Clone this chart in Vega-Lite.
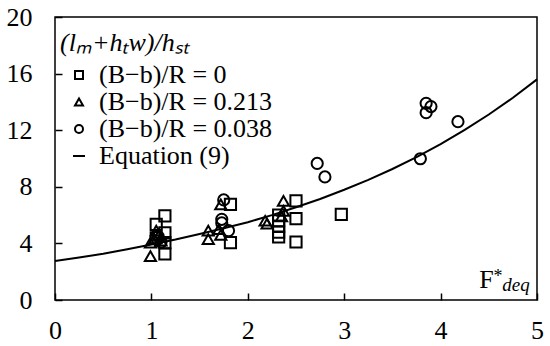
{
  "$schema": "https://vega.github.io/schema/vega-lite/v6.json",
  "width": 482,
  "height": 283,
  "autosize": {"type": "none"},
  "padding": {"left": 55, "top": 17, "right": 13, "bottom": 46},
  "background": "white",
  "config": {
    "view": {"stroke": "black", "strokeWidth": 1.5},
    "font": "Liberation Serif",
    "axis": {
      "domain": false,
      "grid": false,
      "ticks": true,
      "tickSize": -7,
      "tickColor": "black",
      "tickWidth": 1.5,
      "labelFont": "Liberation Serif",
      "labelFontSize": 26,
      "labelColor": "black",
      "labelFlush": false,
      "labelOverlap": false,
      "title": null
    },
    "legend": {
      "orient": "none",
      "legendX": 5,
      "legendY": 13,
      "padding": 0,
      "titleFont": "Liberation Serif",
      "titleFontSize": 26,
      "titleFontStyle": "italic",
      "titleFontWeight": "normal",
      "titleColor": "black",
      "titlePadding": 6,
      "titleLimit": 0,
      "labelFont": "Liberation Serif",
      "labelFontSize": 26,
      "labelColor": "black",
      "labelLimit": 0,
      "labelOffset": 7,
      "symbolSize": 64,
      "symbolStrokeWidth": 2,
      "symbolStrokeColor": "black",
      "symbolOffset": 6,
      "rowPadding": 1
    }
  },
  "datasets": {
    "points": [
      {"x": 1.14, "y": 5.95, "series": "(B−b)/R = 0"},
      {"x": 1.05, "y": 5.35, "series": "(B−b)/R = 0"},
      {"x": 1.14, "y": 4.75, "series": "(B−b)/R = 0"},
      {"x": 1.14, "y": 4.05, "series": "(B−b)/R = 0"},
      {"x": 1.14, "y": 3.25, "series": "(B−b)/R = 0"},
      {"x": 1.05, "y": 4.4, "series": "(B−b)/R = 0"},
      {"x": 1.82, "y": 6.76, "series": "(B−b)/R = 0"},
      {"x": 1.82, "y": 4.05, "series": "(B−b)/R = 0"},
      {"x": 2.32, "y": 6.0, "series": "(B−b)/R = 0"},
      {"x": 2.32, "y": 5.6, "series": "(B−b)/R = 0"},
      {"x": 2.32, "y": 5.2, "series": "(B−b)/R = 0"},
      {"x": 2.32, "y": 4.8, "series": "(B−b)/R = 0"},
      {"x": 2.32, "y": 4.45, "series": "(B−b)/R = 0"},
      {"x": 2.5, "y": 7.0, "series": "(B−b)/R = 0"},
      {"x": 2.5, "y": 5.75, "series": "(B−b)/R = 0"},
      {"x": 2.5, "y": 4.1, "series": "(B−b)/R = 0"},
      {"x": 2.97, "y": 6.05, "series": "(B−b)/R = 0"},
      {"x": 0.99, "y": 3.1, "series": "(B−b)/R = 0.213"},
      {"x": 0.99, "y": 4.05, "series": "(B−b)/R = 0.213"},
      {"x": 1.03, "y": 4.3, "series": "(B−b)/R = 0.213"},
      {"x": 1.05, "y": 4.9, "series": "(B−b)/R = 0.213"},
      {"x": 1.08, "y": 4.6, "series": "(B−b)/R = 0.213"},
      {"x": 1.1, "y": 4.2, "series": "(B−b)/R = 0.213"},
      {"x": 1.59, "y": 4.9, "series": "(B−b)/R = 0.213"},
      {"x": 1.59, "y": 4.3, "series": "(B−b)/R = 0.213"},
      {"x": 1.72, "y": 6.76, "series": "(B−b)/R = 0.213"},
      {"x": 1.7, "y": 5.0, "series": "(B−b)/R = 0.213"},
      {"x": 1.72, "y": 4.6, "series": "(B−b)/R = 0.213"},
      {"x": 2.18, "y": 5.6, "series": "(B−b)/R = 0.213"},
      {"x": 2.2, "y": 5.4, "series": "(B−b)/R = 0.213"},
      {"x": 2.37, "y": 7.0, "series": "(B−b)/R = 0.213"},
      {"x": 2.37, "y": 6.3, "series": "(B−b)/R = 0.213"},
      {"x": 2.35, "y": 5.9, "series": "(B−b)/R = 0.213"},
      {"x": 1.07, "y": 4.5, "series": "(B−b)/R = 0.038"},
      {"x": 1.1, "y": 4.1, "series": "(B−b)/R = 0.038"},
      {"x": 1.75, "y": 7.07, "series": "(B−b)/R = 0.038"},
      {"x": 1.73, "y": 5.7, "series": "(B−b)/R = 0.038"},
      {"x": 1.73, "y": 5.45, "series": "(B−b)/R = 0.038"},
      {"x": 1.8, "y": 4.9, "series": "(B−b)/R = 0.038"},
      {"x": 2.72, "y": 9.65, "series": "(B−b)/R = 0.038"},
      {"x": 2.8, "y": 8.7, "series": "(B−b)/R = 0.038"},
      {"x": 3.79, "y": 9.98, "series": "(B−b)/R = 0.038"},
      {"x": 3.85, "y": 13.9, "series": "(B−b)/R = 0.038"},
      {"x": 3.9, "y": 13.67, "series": "(B−b)/R = 0.038"},
      {"x": 3.85, "y": 13.24, "series": "(B−b)/R = 0.038"},
      {"x": 4.18, "y": 12.6, "series": "(B−b)/R = 0.038"}
    ],
    "curve": [
      {"x": 0, "y": 2.75}, {"x": 0.25, "y": 3.0}, {"x": 0.5, "y": 3.27},
      {"x": 0.75, "y": 3.58}, {"x": 1.0, "y": 3.92}, {"x": 1.25, "y": 4.27},
      {"x": 1.5, "y": 4.66}, {"x": 1.75, "y": 5.07}, {"x": 2.0, "y": 5.5},
      {"x": 2.25, "y": 6.0}, {"x": 2.5, "y": 6.55}, {"x": 2.75, "y": 7.14},
      {"x": 3.0, "y": 7.79}, {"x": 3.25, "y": 8.49}, {"x": 3.5, "y": 9.26},
      {"x": 3.75, "y": 10.1}, {"x": 4.0, "y": 11.02}, {"x": 4.25, "y": 12.02},
      {"x": 4.5, "y": 13.11}, {"x": 4.75, "y": 14.29}, {"x": 5.0, "y": 15.59}
    ],
    "one": [{}]
  },
  "layer": [
    {
      "data": {"name": "curve"},
      "mark": {"type": "line", "color": "black", "strokeWidth": 2},
      "encoding": {
        "x": {"field": "x", "type": "quantitative", "scale": {"domain": [0, 5], "nice": false},
              "axis": {"values": [0, 1, 2, 3, 4, 5], "labelPadding": 24, "format": "d", "labelFont": "Liberation Serif"}},
        "y": {"field": "y", "type": "quantitative", "scale": {"domain": [0, 20], "nice": false},
              "axis": {"values": [0, 4, 8, 12, 16, 20], "labelPadding": 30, "format": "d", "labelFont": "Liberation Serif"}}
      }
    },
    {
      "data": {"name": "points"},
      "mark": {"type": "point", "filled": false, "stroke": "black", "strokeWidth": 2, "size": 125, "opacity": 1},
      "encoding": {
        "x": {"field": "x", "type": "quantitative"},
        "y": {"field": "y", "type": "quantitative"},
        "shape": {
          "field": "series", "type": "nominal",
          "scale": {
            "domain": ["(B−b)/R = 0", "(B−b)/R = 0.213", "(B−b)/R = 0.038", "Equation (9)"],
            "range": ["square", "triangle-up", "circle", "M-1.5,0H1.5"]
          },
          "legend": {"title": "(lₘ+hₜw)/hₛₜ"}
        }
      }
    },
    {
      "data": {"name": "one"},
      "mark": {"type": "text", "text": "F", "font": "Liberation Serif", "fontSize": 26, "align": "left", "baseline": "alphabetic", "color": "black"},
      "encoding": {"x": {"datum": 4.4, "type": "quantitative"}, "y": {"datum": 0.85, "type": "quantitative"}}
    },
    {
      "data": {"name": "one"},
      "mark": {"type": "text", "text": "*", "font": "Liberation Serif", "fontSize": 18, "align": "left", "baseline": "alphabetic", "color": "black"},
      "encoding": {"x": {"datum": 4.55, "type": "quantitative"}, "y": {"datum": 1.28, "type": "quantitative"}}
    },
    {
      "data": {"name": "one"},
      "mark": {"type": "text", "text": "deq", "font": "Liberation Serif", "fontSize": 19, "fontStyle": "italic", "align": "left", "baseline": "alphabetic", "color": "black"},
      "encoding": {"x": {"datum": 4.64, "type": "quantitative"}, "y": {"datum": 0.64, "type": "quantitative"}}
    }
  ]
}
